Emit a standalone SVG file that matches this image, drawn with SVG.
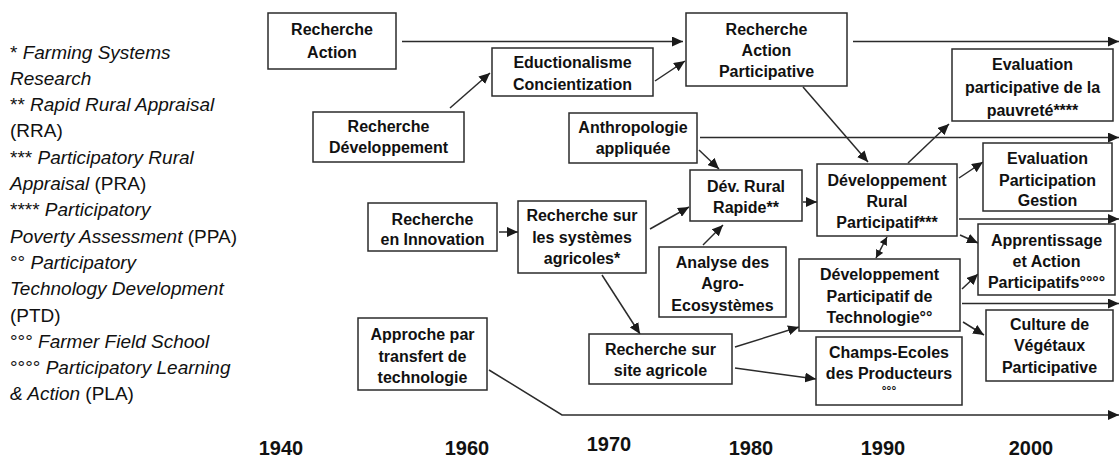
<svg xmlns="http://www.w3.org/2000/svg" width="1119" height="457" viewBox="0 0 1119 457">
<style>
.box{fill:#fff;stroke:#2b2b2b;stroke-width:1.5}
.t{font-family:"Liberation Sans",Arial,sans-serif;font-weight:bold;font-size:16px;fill:#111;text-anchor:middle}
.yr{font-family:"Liberation Sans",Arial,sans-serif;font-weight:bold;font-size:20px;fill:#111;text-anchor:middle}
.lg{font-family:"Liberation Sans",Arial,sans-serif;font-size:19px;fill:#111}
.i{font-style:italic}
.c{fill:none;stroke:#2b2b2b;stroke-width:1.5}
.a{marker-end:url(#ah)}
</style>
<defs>
<marker id="ah" markerUnits="userSpaceOnUse" markerWidth="12" markerHeight="10" refX="11" refY="5" orient="auto">
<path d="M0,0 L11,5 L0,10 z" fill="#1a1a1a"/>
</marker>
<marker id="ahs" markerUnits="userSpaceOnUse" markerWidth="9" markerHeight="8" refX="8" refY="4" orient="auto-start-reverse">
<path d="M0,0 L8,4 L0,8 z" fill="#1a1a1a"/>
</marker>
</defs>
<rect width="1119" height="457" fill="#fff"/>

<g id="legend">
<text class="lg" x="10" y="59">* <tspan class="i">Farming Systems</tspan></text>
<text class="lg i" x="10" y="85">Research</text>
<text class="lg" x="10" y="111">** <tspan class="i">Rapid Rural Appraisal</tspan></text>
<text class="lg" x="10" y="137">(RRA)</text>
<text class="lg" x="10" y="164">*** <tspan class="i">Participatory Rural</tspan></text>
<text class="lg" x="10" y="190"><tspan class="i">Appraisal</tspan> (PRA)</text>
<text class="lg" x="10" y="216">**** <tspan class="i">Participatory</tspan></text>
<text class="lg" x="10" y="243"><tspan class="i">Poverty Assessment</tspan> (PPA)</text>
<text class="lg" x="10" y="269">°° <tspan class="i">Participatory</tspan></text>
<text class="lg i" x="10" y="295">Technology Development</text>
<text class="lg" x="10" y="322">(PTD)</text>
<text class="lg" x="10" y="348">°°° <tspan class="i">Farmer Field School</tspan></text>
<text class="lg" x="10" y="374">°°°° <tspan class="i">Participatory Learning</tspan></text>
<text class="lg" x="10" y="400"><tspan class="i">&amp; Action</tspan> (PLA)</text>
</g>

<g id="connectors">
<line class="c a" x1="402" y1="41.5" x2="683" y2="41.5"/>
<line class="c a" x1="853" y1="41.5" x2="1119" y2="41.5"/>
<line class="c a" x1="450" y1="108" x2="490" y2="73"/>
<line class="c a" x1="655" y1="81" x2="685" y2="61"/>
<line class="c a" x1="700" y1="137.5" x2="1119" y2="137.5"/>
<line class="c a" x1="699" y1="150" x2="719" y2="169"/>
<line class="c a" x1="803" y1="87" x2="868" y2="162"/>
<line class="c a" x1="908" y1="163" x2="949" y2="124"/>
<line class="c a" x1="959" y1="178" x2="983" y2="162"/>
<line class="c a" x1="959" y1="219" x2="1119" y2="219"/>
<line class="c a" x1="960" y1="235" x2="978" y2="243"/>
<line class="c" x1="876" y1="258" x2="887" y2="237" marker-start="url(#ahs)" marker-end="url(#ahs)"/>
<line class="c a" x1="962" y1="289" x2="978" y2="274"/>
<line class="c a" x1="962" y1="303.5" x2="1119" y2="303.5"/>
<line class="c a" x1="963" y1="322" x2="984" y2="335"/>
<line class="c a" x1="803" y1="202" x2="817" y2="202"/>
<line class="c a" x1="703" y1="245" x2="723" y2="225"/>
<line class="c a" x1="650" y1="229" x2="689" y2="207"/>
<line class="c a" x1="499" y1="232" x2="518" y2="232"/>
<line class="c a" x1="602" y1="275" x2="640" y2="334"/>
<line class="c a" x1="735" y1="347" x2="799" y2="327"/>
<line class="c a" x1="735" y1="368" x2="816" y2="379"/>
<polyline class="c a" points="489,370 562,415 1119,415"/>
</g>

<g id="n-recherche-action"><rect class="box" x="268" y="13" width="128" height="56"/>
<text class="t" x="332" y="35">Recherche</text><text class="t" x="332" y="58">Action</text></g>

<g id="n-eductionalisme"><rect class="box" x="492" y="48" width="161" height="48"/>
<text class="t" x="572.5" y="68">Eductionalisme</text><text class="t" x="572.5" y="90">Concientization</text></g>

<g id="n-recherche-developpement"><rect class="box" x="313" y="112" width="151" height="50"/>
<text class="t" x="388.5" y="132">Recherche</text><text class="t" x="388.5" y="153">Développement</text></g>

<g id="n-anthropologie"><rect class="box" x="569" y="113" width="128" height="50"/>
<text class="t" x="633" y="133">Anthropologie</text><text class="t" x="633" y="154">appliquée</text></g>

<g id="n-rap"><rect class="box" x="686" y="13" width="161" height="73"/>
<text class="t" x="766.5" y="35">Recherche</text><text class="t" x="766.5" y="56">Action</text><text class="t" x="766.5" y="77">Participative</text></g>

<g id="n-epp"><rect class="box" x="952" y="49" width="161" height="72"/>
<text class="t" x="1032.5" y="70">Evaluation</text><text class="t" x="1032.5" y="93">participative de la</text><text class="t" x="1032.5" y="116">pauvreté****</text></g>

<g id="n-drr"><rect class="box" x="690" y="170" width="112" height="51"/>
<text class="t" x="746" y="192">Dév. Rural</text><text class="t" x="746" y="213">Rapide**</text></g>

<g id="n-drp"><rect class="box" x="817" y="164" width="140" height="72"/>
<text class="t" x="887" y="186">Développement</text><text class="t" x="887" y="207">Rural</text><text class="t" x="887" y="228">Participatif***</text></g>

<g id="n-epg"><rect class="box" x="983" y="143" width="129" height="68"/>
<text class="t" x="1047.5" y="164">Evaluation</text><text class="t" x="1047.5" y="186">Participation</text><text class="t" x="1047.5" y="206">Gestion</text></g>

<g id="n-apprentissage"><rect class="box" x="978" y="224" width="137" height="71"/>
<text class="t" x="1046.5" y="246">Apprentissage</text><text class="t" x="1046.5" y="267">et Action</text><text class="t" x="1046.5" y="288">Participatifs°°°°</text></g>

<g id="n-culture"><rect class="box" x="986" y="310" width="127" height="71"/>
<text class="t" x="1049.5" y="330">Culture de</text><text class="t" x="1049.5" y="351">Végétaux</text><text class="t" x="1049.5" y="373">Participative</text></g>

<g id="n-dpt"><rect class="box" x="799" y="259" width="161" height="72"/>
<text class="t" x="879.5" y="280">Développement</text><text class="t" x="879.5" y="302">Participatif de</text><text class="t" x="879.5" y="323">Technologie°°</text></g>

<g id="n-analyse"><rect class="box" x="659" y="247" width="127" height="70"/>
<text class="t" x="722.5" y="268">Analyse des</text><text class="t" x="722.5" y="289">Agro-</text><text class="t" x="722.5" y="311">Ecosystèmes</text></g>

<g id="n-rssa"><rect class="box" x="518" y="201" width="128" height="72"/>
<text class="t" x="582" y="221">Recherche sur</text><text class="t" x="582" y="243">les systèmes</text><text class="t" x="582" y="264">agricoles*</text></g>

<g id="n-innovation"><rect class="box" x="368" y="203" width="129" height="48"/>
<text class="t" x="432.5" y="225">Recherche</text><text class="t" x="432.5" y="245">en Innovation</text></g>

<g id="n-site"><rect class="box" x="589" y="334" width="143" height="50"/>
<text class="t" x="660.5" y="355">Recherche sur</text><text class="t" x="660.5" y="376">site agricole</text></g>

<g id="n-champs"><rect class="box" x="816" y="337" width="146" height="68"/>
<text class="t" x="889" y="358">Champs-Ecoles</text><text class="t" x="889" y="379">des Producteurs</text><text class="t" x="889" y="395" style="font-size:12px">°°°</text></g>

<g id="n-approche"><rect class="box" x="358" y="318" width="129" height="72"/>
<text class="t" x="422.5" y="340">Approche par</text><text class="t" x="422.5" y="362">transfert de</text><text class="t" x="422.5" y="383">technologie</text></g>

<g id="years">
<text class="yr" x="281" y="455">1940</text>
<text class="yr" x="467" y="455">1960</text>
<text class="yr" x="609" y="451">1970</text>
<text class="yr" x="751" y="455">1980</text>
<text class="yr" x="883" y="455">1990</text>
<text class="yr" x="1031" y="455">2000</text>
</g>
</svg>
